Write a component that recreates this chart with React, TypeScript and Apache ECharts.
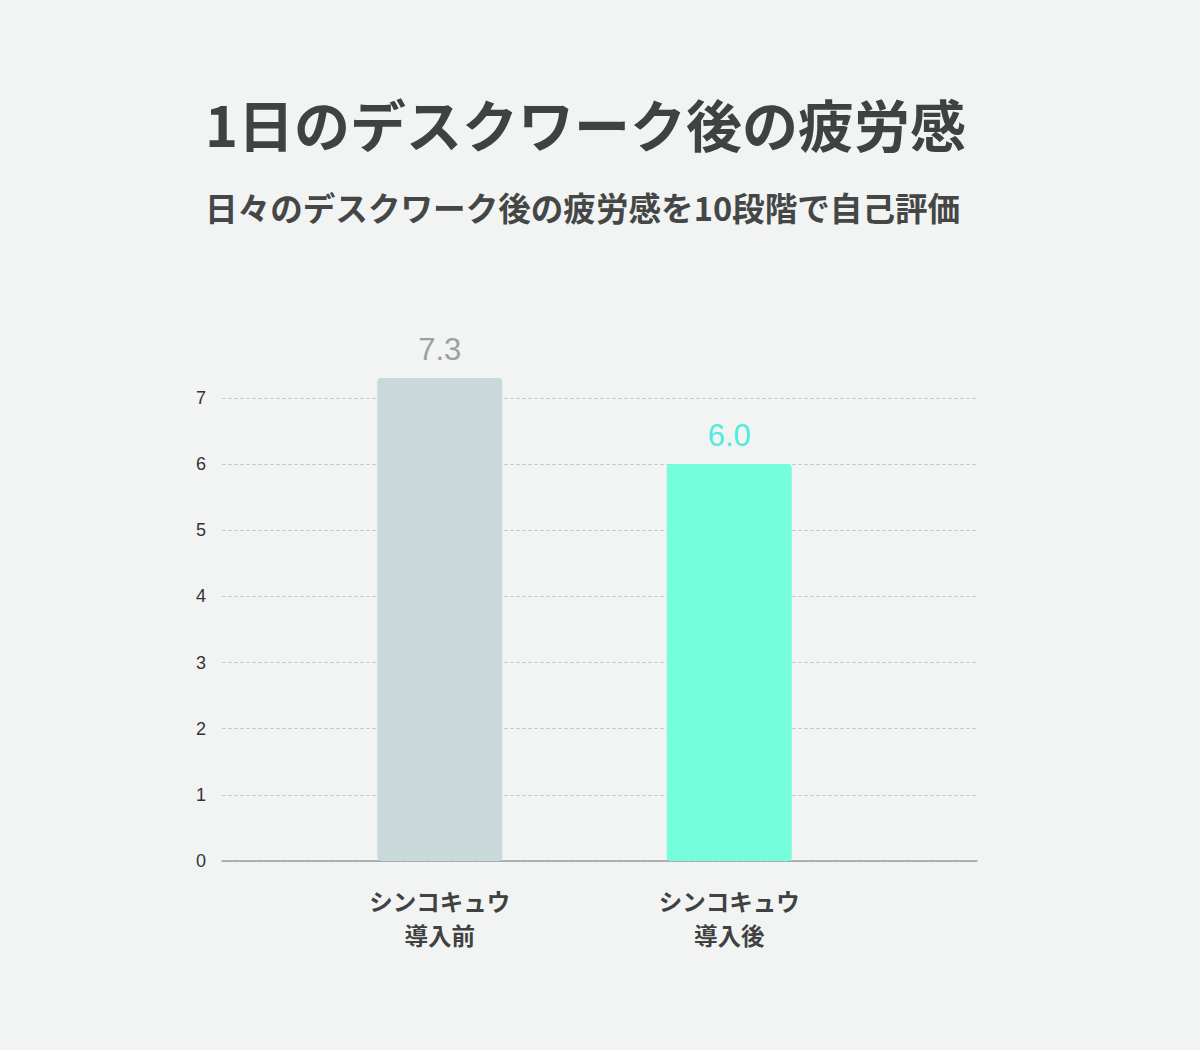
import React, { useEffect, useRef } from "react";
import * as echarts from "echarts";

const categories = ["シンコキュウ\n導入前", "シンコキュウ\n導入後"];
const values = [7.3, 6.0];
const barColors = ["#c9d9d9", "#75fddc"];
const labelColors = ["#9ba1a2", "#4decdd"];
const yTicks = [0, 1, 2, 3, 4, 5, 6, 7];
const titleText = "1日のデスクワーク後の疲労感";
const subtitleText = "日々のデスクワーク後の疲労感を10段階で自己評価";

export default function App() {
  const ref = useRef<HTMLDivElement>(null);
  useEffect(() => {
    if (!ref.current) return;
    const chart = echarts.init(ref.current, undefined, { renderer: "svg" });
    const top = 378;
    const bottom = 1050 - 861;
    const yMax = 7.3;
    chart.setOption({
      animation: false,
      backgroundColor: "#f2f4f3",
      title: [
        {
          text: titleText,
          left: 200,
          top: 89,
          textStyle: {
            fontFamily: "Noto Sans CJK JP",
            fontWeight: "bold",
            fontSize: 56,
            color: "#404242",
          },
        },
        {
          text: subtitleText,
          left: 200,
          top: 185,
          textStyle: {
            fontFamily: "Noto Sans CJK JP",
            fontWeight: "bold",
            fontSize: 32.6,
            color: "#454747",
          },
        },
      ],
      grid: [
        { left: 222, right: 1200 - 977, top, bottom, containLabel: false },
        { left: 295, right: 1200 - 874, top, bottom, containLabel: false },
      ],
      xAxis: [
        {
          gridIndex: 0,
          type: "category",
          data: ["", ""],
          axisLine: { show: true, lineStyle: { color: "#9a9e9e", width: 1.5 } },
          axisTick: { show: false },
          axisLabel: { show: false },
        },
        {
          gridIndex: 1,
          type: "category",
          data: categories,
          axisLine: { show: false },
          axisTick: { show: false },
          axisLabel: {
            margin: 23,
            fontFamily: "Noto Sans CJK JP",
            fontWeight: "bold",
            fontSize: 23.5,
            lineHeight: 34,
            color: "#404242",
          },
        },
      ],
      yAxis: [
        {
          gridIndex: 0,
          type: "value",
          min: 0,
          max: yMax,
          interval: 1,
          axisLine: { show: false },
          axisTick: { show: false },
          axisLabel: {
            showMaxLabel: false,
            margin: 16,
            fontFamily: "Liberation Sans",
            fontSize: 18,
            color: "#333",
            formatter: (v: number) => (yTicks.includes(v) ? String(v) : ""),
          },
          splitLine: {
            show: true,
            showMaxLine: false,
            lineStyle: { type: "dashed", color: "#c8cbcb", width: 1 },
          },
        },
        {
          gridIndex: 1,
          type: "value",
          min: 0,
          max: yMax,
          interval: 1,
          show: false,
          splitLine: { show: false },
        },
      ],
      series: [
        {
          type: "bar",
          xAxisIndex: 1,
          yAxisIndex: 1,
          barWidth: 125,
          data: values.map((v, i) => ({
            value: v,
            itemStyle: { color: barColors[i], borderRadius: 4 },
            label: { color: labelColors[i] },
          })),
          label: {
            show: true,
            position: "top",
            distance: 13,
            fontFamily: "Liberation Sans",
            fontSize: 31,
            formatter: (p: any) => Number(p.value).toFixed(1),
          },
        },
      ],
    });
    return () => chart.dispose();
  }, []);
  return (
    <div
      ref={ref}
      style={{ position: "absolute", left: 0, top: 0, width: 1200, height: 1050 }}
    />
  );
}
